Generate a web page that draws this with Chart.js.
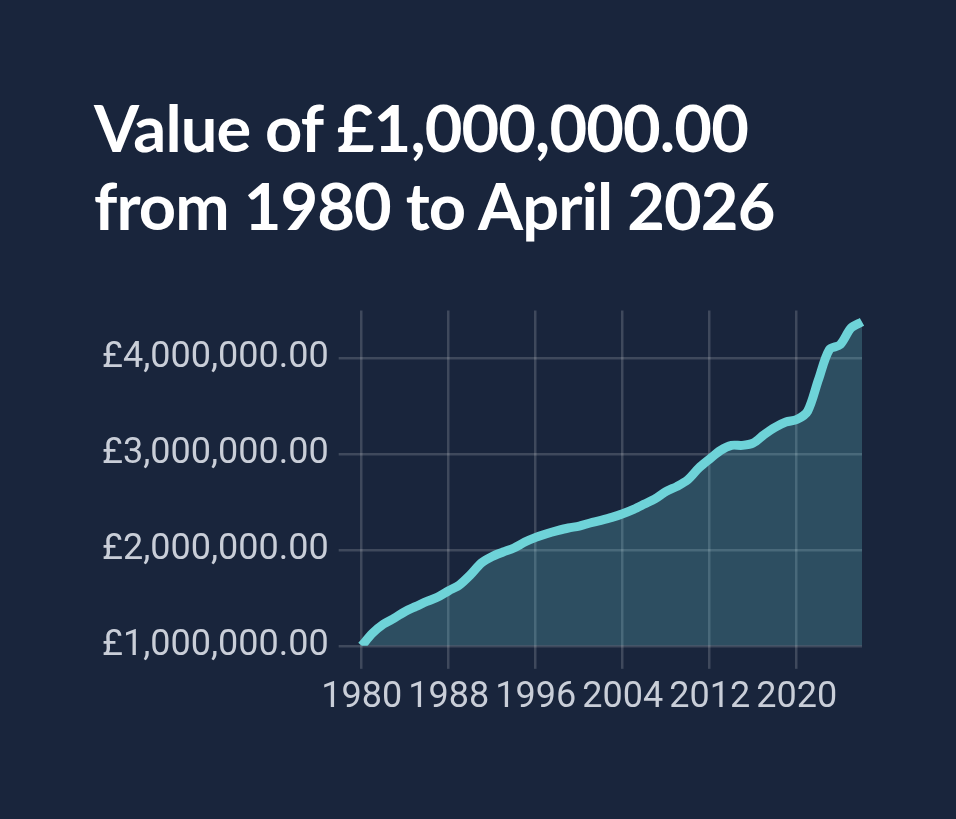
<!DOCTYPE html>
<html lang="en">
<head>
  <meta charset="UTF-8">
  <title>Value of £1,000,000.00 from 1980 to April 2026</title>
  <script src="https://cdn.jsdelivr.net/npm/chart.js"></script>
  <style>
    html, body { margin: 0; padding: 0; }
    body { width: 956px; height: 819px; background: #19253c; overflow: hidden; position: relative; }
    h1 {
      position: absolute; left: 94px; top: 88px; margin: 0;
      font-family: Lato, sans-serif; font-weight: 700; font-size: 65px; line-height: 78px;
      color: #ffffff; letter-spacing: -0.9px;
    }
    .chart-box { position: absolute; left: 92px; top: 279px; width: 788px; height: 449px; }
  </style>
</head>
<body>
  <h1>Value of £1,000,000.00<br>from 1980 to April 2026</h1>
  <div class="chart-box"><canvas id="chart"></canvas></div>

  <script>
    // yearly values, 1980 .. 2026 (in £)
    const years = [];
    for (let y = 1980; y <= 2026; y++) years.push(String(y));

    const values = [
      1000000, 1132000, 1226000, 1289000, 1359000, 1411000, 1463000, 1509000,
      1575000, 1637000, 1742000, 1864000, 1933000, 1979000, 2021000, 2083000,
      2132000, 2170000, 2202000, 2230000, 2250000, 2282000, 2310000, 2341000,
      2379000, 2425000, 2480000, 2536000, 2613000, 2665000, 2735000, 2856000,
      2951000, 3041000, 3093000, 3093000, 3118000, 3205000, 3281000, 3337000,
      3362000, 3449000, 3780000, 4093000, 4145000, 4319000, 4382000
    ];

    const yTicks = [1000000, 2000000, 3000000, 4000000];
    const xTickYears = ["1980", "1988", "1996", "2004", "2012", "2020"];

    const fmt = v => "£" + v.toLocaleString("en-GB", { minimumFractionDigits: 2, maximumFractionDigits: 2 });

    const gridColor = "rgba(255,255,255,0.17)";
    const tickFont = { family: "Roboto", size: 36 };

    new Chart(document.getElementById("chart"), {
      type: "line",
      data: {
        labels: years,
        datasets: [{
          data: values,
          borderColor: "#6ed3d8",
          backgroundColor: "rgba(110,211,216,0.24)",
          borderWidth: 9,
          fill: "start",
          tension: 0.3,
          pointRadius: 0
        }]
      },
      options: {
        responsive: true,
        maintainAspectRatio: false,
        animation: false,
        layout: { padding: { left: 0, right: 18, top: 0, bottom: 0 } },
        plugins: { legend: { display: false }, tooltip: { enabled: false } },
        scales: {
          x: {
            grid: { color: gridColor, lineWidth: 2.5, tickLength: 23 },
            border: { display: false },
            ticks: { color: "#c9ced8", font: tickFont, padding: 8, maxRotation: 0, autoSkip: false },
            afterBuildTicks: s => { s.ticks = s.ticks.filter(t => xTickYears.includes(years[t.value])); }
          },
          y: {
            min: 1000000,
            max: 4500000,
            grid: { color: gridColor, lineWidth: 2.5, tickLength: 23 },
            border: { display: false },
            ticks: { color: "#c9ced8", font: tickFont, padding: 10, callback: v => fmt(v) },
            afterBuildTicks: s => { s.ticks = yTicks.map(v => ({ value: v })); }
          }
        }
      }
    });
  </script>
</body>
</html>
